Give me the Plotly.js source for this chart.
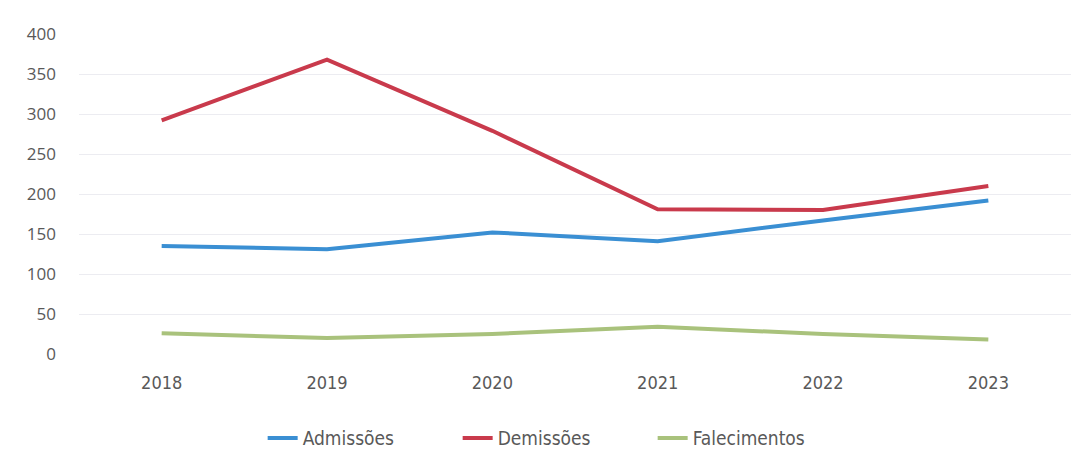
<!DOCTYPE html>
<html>
<head>
<meta charset="utf-8">
<script src="https://cdn.plot.ly/plotly-3.0.1.min.js"></script>
<style>html,body{margin:0;padding:0;background:#fff;}#chart{width:1083px;height:468px;}</style>
</head>
<body>
<div id="chart"></div>
<script>
const years = ['2018', '2019', '2020', '2021', '2022', '2023'];
const admissoes = [135, 131, 152, 141, 167, 192];
const demissoes = [292, 368, 279, 181, 180, 210];
const falecimentos = [26, 20, 25, 34, 25, 18];
const yTicks = [0, 50, 100, 150, 200, 250, 300, 350, 400];

const catFont = '"DejaVu Sans Condensed", "Liberation Sans Narrow", sans-serif';

const mk = (name, y, color) => ({
  x: years, y: y, name: name, type: 'scatter', mode: 'lines',
  line: {color: color, width: 4}
});

const data = [
  mk('Admissões', admissoes, '#3a8fd3'),
  mk('Demissões', demissoes, '#c93a4c'),
  mk('Falecimentos', falecimentos, '#a9c27c')
];

const layout = {
  width: 1083, height: 468,
  margin: {l: 79, r: 12, t: 34, b: 113},
  paper_bgcolor: '#ffffff', plot_bgcolor: '#ffffff',
  showlegend: true,
  legend: {
    orientation: 'h', x: 0.48, xanchor: 'center', y: -0.2, yanchor: 'top',
    font: {family: catFont, size: 19, color: '#595959'},
    itemwidth: 30, traceorder: 'normal',
    entrywidth: 150, entrywidthmode: 'pixels'
  },
  xaxis: {
    type: 'category', range: [-0.5, 5.5],
    showgrid: false, zeroline: false, showline: false, ticks: '',
    tickfont: {family: catFont, size: 18, color: '#595959'},
    ticklabelstandoff: 16
  },
  yaxis: {
    range: [0, 400], tickvals: yTicks, ticktext: yTicks.map(String),
    showgrid: true, gridcolor: '#ececf1', gridwidth: 1,
    zeroline: false, showline: false, ticks: '',
    tickfont: {family: '"Open Sans", sans-serif', size: 17, color: '#595959'},
    ticklabelstandoff: 22
  }
};

Plotly.newPlot('chart', data, layout, {displayModeBar: false, staticPlot: true});
</script>
</body>
</html>
